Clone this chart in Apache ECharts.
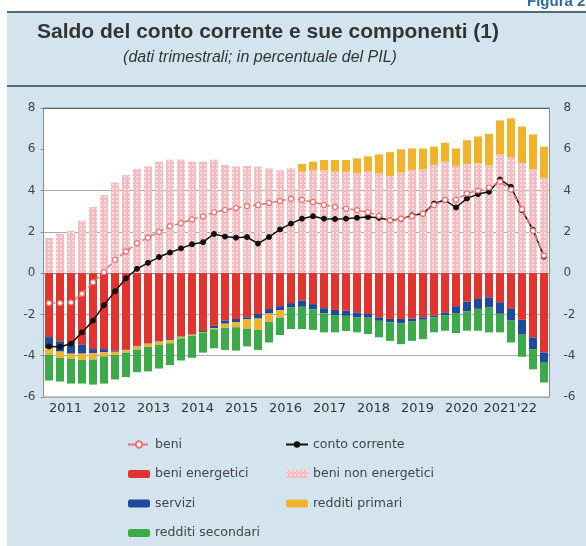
<!DOCTYPE html>
<html>
<head>
<meta charset="utf-8">
<script src="https://cdn.jsdelivr.net/npm/echarts@6/dist/echarts.min.js"></script>
<style>
  html, body { margin: 0; padding: 0; background: #fff; }
  #chart { width: 586px; height: 546px; }
</style>
</head>
<body>
<div id="chart"></div>
<script>
// trimestri 2011 T1 - 2022 T2
var quarters = [];
for (var y = 2011; y <= 2022; y++) {
    for (var q = 1; q <= 4; q++) {
        if (y === 2022 && q > 2) break;
        quarters.push(y + ' T' + q);
    }
}
var years = ['2011', '2012', '2013', '2014', '2015', '2016', '2017', '2018', '2019', '2020', '2021', "'22"];

// componenti (in percentuale del PIL)
var beniNonEnergetici = [1.70, 1.90, 2.05, 2.55, 3.20, 3.78, 4.38, 4.75, 5.05, 5.17, 5.40, 5.50, 5.50, 5.40, 5.40, 5.50, 5.25, 5.17, 5.19, 5.16, 5.08, 4.98, 5.08, 4.91, 5.00, 4.98, 4.91, 4.91, 4.83, 4.93, 4.83, 4.70, 4.87, 5.00, 5.03, 5.24, 5.40, 5.20, 5.28, 5.32, 5.22, 5.77, 5.60, 5.33, 5.02, 4.62];
var beniEnergetici = [-3.10, -3.30, -3.45, -3.45, -3.68, -3.68, -3.76, -3.70, -3.52, -3.40, -3.30, -3.20, -3.05, -2.95, -2.80, -2.55, -2.30, -2.22, -2.14, -1.98, -1.74, -1.60, -1.45, -1.33, -1.50, -1.70, -1.78, -1.82, -1.90, -1.98, -2.14, -2.22, -2.22, -2.20, -2.14, -2.06, -1.90, -1.60, -1.38, -1.25, -1.17, -1.41, -1.70, -2.26, -3.11, -3.84];
var servizi = [-0.55, -0.50, -0.45, -0.45, -0.20, -0.15, -0.05, -0.03, -0.03, -0.02, -0.02, -0.05, -0.03, -0.03, -0.05, -0.12, -0.15, -0.15, -0.10, -0.22, -0.22, -0.20, -0.22, -0.30, -0.25, -0.25, -0.25, -0.25, -0.25, -0.18, -0.17, -0.17, -0.22, -0.15, -0.12, -0.08, -0.15, -0.33, -0.48, -0.48, -0.50, -0.56, -0.60, -0.72, -0.57, -0.50];
var redditiPrimari = [-0.30, -0.30, -0.25, -0.30, -0.30, -0.20, -0.15, -0.12, -0.15, -0.15, -0.15, -0.15, -0.08, -0.05, -0.03, -0.05, -0.20, -0.25, -0.45, -0.55, -0.40, -0.35, 0, 0.38, 0.40, 0.50, 0.57, 0.57, 0.73, 0.73, 0.92, 1.16, 1.13, 1.04, 1.01, 0.89, 0.92, 0.84, 1.16, 1.30, 1.53, 1.63, 1.90, 1.77, 1.70, 1.51];
var redditiSecondari = [-1.25, -1.15, -1.20, -1.15, -1.22, -1.32, -1.19, -1.18, -1.10, -1.19, -1.15, -1.05, -1.07, -1.07, -0.97, -0.92, -1.07, -1.13, -0.86, -0.97, -1.00, -0.85, -1.04, -1.08, -1.00, -0.92, -0.84, -0.73, -0.72, -0.79, -0.80, -0.89, -1.00, -0.93, -0.94, -0.73, -0.74, -0.97, -0.93, -1.06, -1.20, -0.90, -1.06, -1.07, -0.98, -0.96];
var beni = [-1.45, -1.45, -1.42, -1.00, -0.44, 0.05, 0.65, 1.05, 1.45, 1.72, 2.00, 2.28, 2.42, 2.60, 2.75, 2.95, 3.06, 3.15, 3.25, 3.30, 3.40, 3.50, 3.60, 3.55, 3.45, 3.30, 3.20, 3.12, 3.05, 2.95, 2.78, 2.56, 2.64, 2.76, 2.88, 3.30, 3.55, 3.55, 3.86, 4.00, 4.15, 4.43, 4.05, 3.10, 2.05, 0.85];
var contoCorrente = [-3.55, -3.57, -3.42, -2.87, -2.30, -1.55, -0.88, -0.25, 0.21, 0.50, 0.78, 1.00, 1.20, 1.40, 1.50, 1.90, 1.77, 1.72, 1.75, 1.43, 1.75, 2.12, 2.40, 2.64, 2.76, 2.64, 2.62, 2.64, 2.68, 2.72, 2.68, 2.56, 2.62, 2.80, 2.88, 3.37, 3.54, 3.18, 3.62, 3.83, 3.94, 4.54, 4.18, 3.05, 2.10, 0.80];

var FONT = 'DejaVu Sans';
var AXIS_COLOR = '#8a8f94';

function bar(name, data, color, extra) {
    var s = {
        name: name,
        type: 'bar',
        stack: 'saldo',
        barWidth: 8,
        data: data,
        itemStyle: { color: color }
    };
    for (var k in extra) s[k] = extra[k];
    return s;
}

var legendText = { fontFamily: FONT, fontSize: 12.5, color: '#444' };

var chart = echarts.init(document.getElementById('chart'));

var option = {
    animation: false,
    backgroundColor: 'transparent',
    graphic: [
        { type: 'rect', z: -10, shape: { x: 7, y: 12, width: 579, height: 534 }, style: { fill: '#d4e4ee' } },
        { type: 'rect', z: -5, shape: { x: 7, y: 11, width: 579, height: 2 }, style: { fill: '#56697a' } },
        { type: 'rect', z: -5, shape: { x: 7, y: 85, width: 579, height: 2 }, style: { fill: '#56697a' } },
        { type: 'text', x: 527, y: -6, style: { text: 'Figura 25', font: 'bold 15px "Liberation Sans"', fill: '#2b6aa5' } },
        { type: 'text', x: 268, y: 22, style: { text: 'Saldo del conto corrente e sue componenti (1)', font: 'bold 21px "Liberation Sans"', fill: '#333', align: 'center' } },
        { type: 'text', x: 260, y: 50, style: { text: '(dati trimestrali; in percentuale del PIL)', font: 'italic 16px "Liberation Sans"', fill: '#333', align: 'center' } }
    ],
    legend: [
        {
            orient: 'vertical', left: 127, top: 438, padding: 0, itemWidth: 22, itemHeight: 8, itemGap: 16.5,
            textStyle: legendText,
            data: ['beni', 'beni energetici', 'servizi', 'redditi secondari']
        },
        {
            orient: 'vertical', left: 285, top: 438, padding: 0, itemWidth: 22, itemHeight: 8, itemGap: 16.5,
            textStyle: legendText,
            data: ['conto corrente', 'beni non energetici', 'redditi primari']
        }
    ],
    grid: {
        left: 43.5, right: 36.5, top: 108, bottom: 149,
        show: true, backgroundColor: '#fff', borderColor: AXIS_COLOR, borderWidth: 1
    },
    xAxis: {
        type: 'category',
        data: quarters,
        axisLine: { lineStyle: { color: AXIS_COLOR } },
        axisTick: { show: false },
        axisLabel: {
            margin: 5,
            interval: function (i) { return (i % 4 === 1 && i < 44) || i === 44; },
            formatter: function (v, i) {
                var yr = years[Math.floor(i / 4)];
                if (i === 41) return '{b|' + yr + '}';
                if (i === 44) return '{c|' + yr + '}';
                return '{a|' + yr + '}';
            },
            rich: {
                a: { fontFamily: FONT, fontSize: 13, color: '#333', padding: [0, 0, 0, 11] },
                b: { fontFamily: FONT, fontSize: 13, color: '#333' },
                c: { fontFamily: FONT, fontSize: 13, color: '#333', padding: [0, 12, 0, 0] }
            }
        }
    },
    yAxis: [
        {
            type: 'value', min: -6, max: 8, interval: 2,
            axisLine: { show: true, lineStyle: { color: AXIS_COLOR } },
            axisTick: { show: true, length: 3, lineStyle: { color: AXIS_COLOR } },
            axisLabel: { fontFamily: FONT, fontSize: 12, color: '#444', margin: 8 },
            splitLine: { lineStyle: { color: ['#aaa', '#aaa', '#aaa', '#aaa', '#aaa', '#aaa', 'rgba(0,0,0,0)', '#666'] } }
        },
        {
            type: 'value', min: -6, max: 8, interval: 2, position: 'right',
            axisLine: { show: true, lineStyle: { color: AXIS_COLOR } },
            axisTick: { show: false },
            axisLabel: { fontFamily: FONT, fontSize: 12, color: '#444', margin: 14 },
            splitLine: { show: false }
        }
    ],
    series: [
        bar('beni non energetici', beniNonEnergetici, '#f3bcc0', {
            itemStyle: {
                color: '#f3bcc0',
                decal: { symbol: 'rect', symbolSize: 1, color: 'rgba(255,255,255,0.5)', dashArrayX: [2, 2], dashArrayY: [2, 2], rotation: 0 }
            }
        }),
        bar('beni energetici', beniEnergetici, '#e2332f'),
        bar('servizi', servizi, '#1f4a9c'),
        bar('redditi primari', redditiPrimari, '#f1b32b'),
        bar('redditi secondari', redditiSecondari, '#3aab48'),
        {
            name: 'conto corrente',
            type: 'line',
            data: contoCorrente,
            symbol: 'circle',
            symbolSize: 5,
            lineStyle: { color: '#111', width: 1.5 },
            itemStyle: { color: '#111', borderColor: '#111' },
            z: 5
        },
        {
            name: 'beni',
            type: 'line',
            data: beni,
            symbol: 'circle',
            symbolSize: 5,
            lineStyle: { color: '#e8736f', width: 1.5, type: 'dashed' },
            itemStyle: { color: '#fff', borderColor: '#e8736f', borderWidth: 1.2 },
            z: 6
        }
    ]
};

chart.setOption(option);
</script>
</body>
</html>
